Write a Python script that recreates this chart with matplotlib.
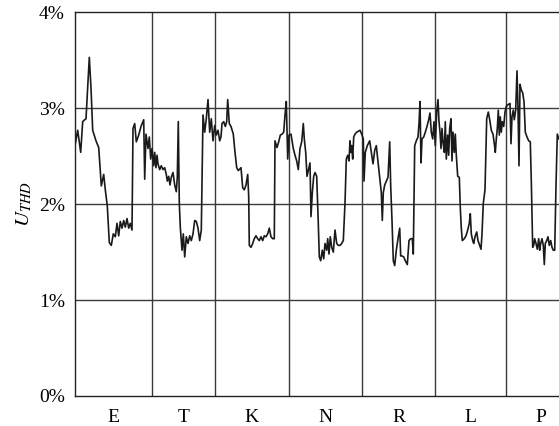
import matplotlib
matplotlib.use("Agg")
import matplotlib.pyplot as plt
from matplotlib.ticker import FuncFormatter

# day labels and day boundaries (sample index)
days = ['E', 'T', 'K', 'N', 'R', 'L', 'P']
day_edges = [0, 77.5, 140.8, 214.0, 287.2, 360.7, 431.5, 501.5]

# measured voltage THD, %
pos = [0.8, 3.2, 6.2, 8.2, 10.2, 11.5, 12.8, 14.8, 16.5, 18.2, 21.5, 24.2, 26.8, 29.2, 30.8,
       32.8, 34.8, 36.8, 38.8, 40.8, 42.5, 44.2, 45.8, 47.5, 49.2, 50.8, 52.5, 54.2, 55.8, 57.5,
       58.5, 60.2, 61.8, 64.2, 66.5, 69.2, 70.2, 71.5, 73.5, 74.8, 76.2, 77.5, 79.2,
       80.2, 81.5, 82.5, 83.5, 85.2, 86.8, 88.5, 90.2, 91.8, 92.8, 94.2, 95.5, 96.8, 98.5, 100.2,
       101.8, 102.8, 103.8, 104.8, 105.8, 107.5, 108.8, 110.2, 111.8, 113.5, 115.2, 116.8, 118.5,
       120.2, 121.8, 123.5, 125.2, 126.8, 128.5, 130.2, 131.8, 133.5, 135.2, 136.8, 138.5, 140.2,
       141.8, 143.5, 145.2,
       146.5, 147.5, 149.2, 150.8, 152.2, 153.2, 154.8, 156.5, 158.8, 160.5, 162.2, 163.8, 166.5,
       168.2, 169.8, 171.5, 173.2, 174.2, 174.8, 176.5, 178.2, 179.8, 181.5, 183.2, 184.8, 186.5,
       188.2, 189.8, 191.5, 193.2, 194.8, 196.5, 198.2, 199.8, 200.5, 202.5, 204.2, 205.8, 207.5,
       209.2, 210.5, 211.8, 213.2, 214.5, 216.5,
       218.8, 220.5, 222.2, 223.8, 225.5, 227.2, 228.8, 229.8, 231.2, 232.5, 233.8, 235.5, 236.5,
       237.8, 239.2, 240.5, 242.2, 243.8, 244.8, 246.2, 247.8, 249.2, 250.5, 252.2, 253.2, 254.5,
       255.8, 257.2, 258.8, 260.5, 262.2, 263.8, 265.5, 267.2, 268.8, 270.5, 271.8, 273.2, 274.5,
       275.5, 276.5, 277.2, 278.2, 279.2, 280.5, 282.2, 283.8, 285.5, 287.2, 288.8, 289.5,
       290.8, 292.8, 295.2, 296.8, 298.5, 300.2, 301.8, 302.8, 304.2, 305.5, 306.8, 307.8, 308.8,
       310.2, 311.8, 313.5, 315.2, 316.2, 317.5, 318.8, 320.2, 321.8, 323.5, 325.2, 326.2, 327.5,
       329.2, 330.8, 332.8, 334.5, 336.2, 337.8, 338.8, 340.2, 341.8, 343.5, 344.5, 345.5, 346.5,
       347.5, 349.2, 350.8, 352.5, 354.2, 355.5, 356.8, 358.2, 359.5, 360.8, 362.2, 363.5,
       364.5, 365.5, 366.5, 367.5, 368.5, 369.8, 370.8, 371.8, 373.2, 374.2, 375.2, 376.5, 377.5,
       378.5, 379.8, 380.8, 381.8, 383.2, 384.8, 385.8, 386.8, 387.8, 389.8, 391.5, 393.2, 394.8,
       395.8, 396.8, 398.2, 399.2, 400.5, 402.2, 403.5, 405.2, 406.5, 407.5, 408.8, 410.5, 412.2,
       413.8, 415.2, 416.8, 418.5, 419.8, 420.8, 421.8, 422.8, 423.8, 424.8, 425.8, 426.8, 427.8,
       429.2, 430.5, 431.8, 433.8,
       434.2, 435.5, 436.5, 437.5, 438.8, 439.8, 441.2, 442.5, 443.5, 444.5, 445.5, 446.8, 448.2,
       449.5, 450.8, 452.5, 454.2, 455.8, 456.8, 458.2, 459.2, 460.2, 461.5, 462.8, 464.2, 465.2,
       466.2, 467.5, 468.8, 469.8, 470.8, 472.2, 473.5, 474.8, 476.2, 477.5, 478.8, 480.2, 481.5,
       482.8, 484.5]

thd = [2.63, 2.77, 2.54, 2.86, 2.88, 2.89, 3.14, 3.53, 3.21, 2.77, 2.66, 2.59, 2.19, 2.31, 2.15,
       1.98, 1.60, 1.57, 1.69, 1.66, 1.80, 1.67, 1.82, 1.75, 1.83, 1.76, 1.85, 1.75, 1.80, 1.73,
       2.79, 2.84, 2.65, 2.72, 2.81, 2.88, 2.26, 2.73, 2.58, 2.70, 2.47, 2.58, 2.40,
       2.54, 2.38, 2.51, 2.42, 2.36, 2.40, 2.36, 2.38, 2.31, 2.24, 2.29, 2.20, 2.28, 2.33, 2.20,
       2.13, 2.28, 2.86, 2.01, 1.76, 1.52, 1.69, 1.45, 1.66, 1.59, 1.67, 1.62, 1.69,
       1.83, 1.82, 1.75, 1.62, 1.73, 2.93, 2.75, 2.89, 3.09, 2.75, 2.89, 2.66, 2.82,
       2.72, 2.77, 2.66,
       2.70, 2.84, 2.86, 2.81, 2.86, 3.09, 2.84, 2.81, 2.73, 2.54, 2.38, 2.35, 2.38,
       2.17, 2.15, 2.20, 2.31, 2.08, 1.57, 1.55, 1.59, 1.64, 1.67, 1.64, 1.62, 1.66,
       1.62, 1.67, 1.66, 1.69, 1.75, 1.66, 1.64, 1.64, 2.66, 2.59, 2.65, 2.72, 2.73,
       2.75, 2.93, 3.07, 2.47, 2.72, 2.73,
       2.58, 2.51, 2.45, 2.36, 2.58, 2.65, 2.84, 2.68, 2.54, 2.29, 2.35, 2.43, 1.87,
       2.12, 2.29, 2.33, 2.29, 1.80, 1.45, 1.41, 1.52, 1.43, 1.59, 1.52, 1.64, 1.48,
       1.66, 1.55, 1.50, 1.73, 1.59, 1.57, 1.57, 1.59, 1.62, 2.01, 2.47, 2.51, 2.45,
       2.66, 2.54, 2.61, 2.47, 2.70, 2.73, 2.75, 2.76, 2.77, 2.73, 2.68, 2.24,
       2.54, 2.61, 2.66, 2.54, 2.42, 2.56, 2.61, 2.51, 2.36, 2.24, 2.12, 1.83, 2.12,
       2.20, 2.24, 2.28, 2.65, 2.19, 1.83, 1.41, 1.36, 1.52, 1.64, 1.75, 1.46, 1.46,
       1.45, 1.41, 1.37, 1.62, 1.64, 1.64, 1.48, 2.61, 2.66, 2.70, 2.84, 3.07, 2.43,
       2.68, 2.70, 2.75, 2.81, 2.88, 2.95, 2.75, 2.68, 2.86, 2.61, 2.96, 3.09,
       2.86, 2.75, 2.58, 2.79, 2.65, 2.54, 2.86, 2.47, 2.72, 2.51, 2.79, 2.89, 2.45,
       2.75, 2.54, 2.73, 2.51, 2.29, 2.28, 1.96, 1.75, 1.62, 1.64, 1.67, 1.73, 1.80,
       1.90, 1.69, 1.62, 1.59, 1.66, 1.71, 1.62, 1.57, 1.53, 1.69, 2.01, 2.15, 2.89,
       2.96, 2.88, 2.77, 2.73, 2.63, 2.54, 2.68, 2.79, 2.98, 2.72, 2.91, 2.75, 2.86,
       2.81, 2.96, 3.02, 3.04,
       3.04, 3.05, 2.63, 2.91, 2.98, 2.88, 2.98, 3.39, 3.00, 2.40, 3.25, 3.19, 3.16,
       3.07, 2.75, 2.70, 2.66, 2.65, 2.24, 1.55, 1.57, 1.64, 1.59, 1.53, 1.64, 1.52,
       1.59, 1.64, 1.57, 1.37, 1.59, 1.62, 1.66, 1.57, 1.62, 1.55, 1.52, 1.52, 2.19,
       2.73, 2.68]

plt.rcParams['font.family'] = 'Liberation Serif'
plt.rcParams['mathtext.fontset'] = 'stix'

fig = plt.figure(figsize=(5.59, 4.26), dpi=100)
ax = fig.add_axes([74.5 / 559, 30 / 426, 484.5 / 559, 383.7 / 426])

ax.plot(pos, thd, color='#1a1a1a', lw=1.2, zorder=3)

ax.set_xlim(0, 484.5)
ax.set_ylim(0, 4)

ax.set_yticks([0, 1, 2, 3, 4])
ax.yaxis.set_major_formatter(FuncFormatter(lambda v, p: '%d%%' % v))
mids = [(day_edges[i] + day_edges[i + 1]) / 2 for i in range(len(days))]
ax.set_xticks(mids)
ax.set_xticklabels(days)
ax.set_xticks(day_edges[1:-1], minor=True)
ax.tick_params(axis='both', which='both', length=0, labelsize=14)
ax.tick_params(axis='y', pad=7)
ax.tick_params(axis='x', pad=9)

for y in [1, 2, 3]:
    ax.axhline(y, color='#3a3a3a', lw=1.0, zorder=1)
for x in day_edges[1:-1]:
    ax.axvline(x, color='#3a3a3a', lw=1.0, zorder=1)

ax.spines['right'].set_visible(False)
for s in ['left', 'bottom', 'top']:
    ax.spines[s].set_color('#222222')
    ax.spines[s].set_linewidth(1.0)

ax.set_ylabel(r'$U_{THD}$', fontsize=15, labelpad=3)

fig.savefig('out.png', dpi=100)
